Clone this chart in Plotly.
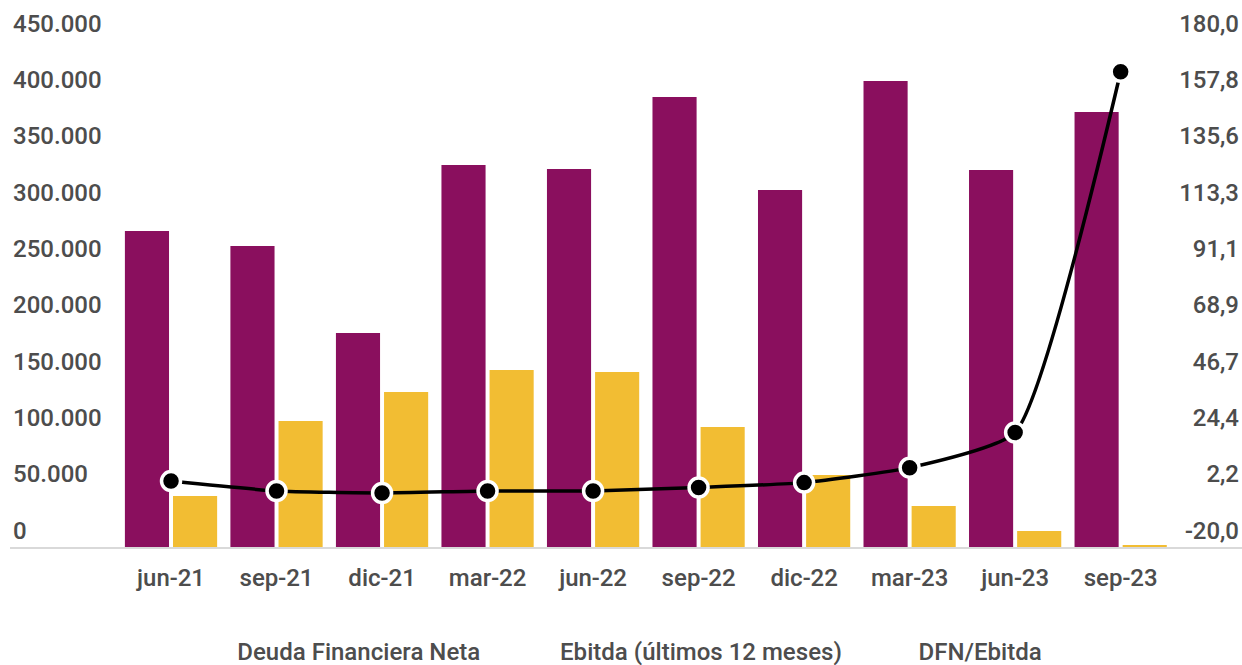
import plotly.graph_objects as go

categories = ["jun-21", "sep-21", "dic-21", "mar-22", "jun-22", "sep-22", "dic-22", "mar-23", "jun-23", "sep-23"]
deuda = [280500, 267200, 189900, 339000, 335500, 399400, 316900, 413600, 334600, 386100]
ebitda = [45300, 111800, 137600, 157100, 155300, 106500, 63900, 36400, 14200, 1800]
dfn_ebitda = [6.0, 2.1, 1.3, 2.1, 2.1, 3.5, 5.4, 11.3, 25.2, 167.5]

names = ["Deuda Financiera Neta", "Ebitda (últimos 12 meses)", "DFN/Ebitda"]
left_ticks = [0, 50000, 100000, 150000, 200000, 250000, 300000, 350000, 400000, 450000]
left_text = ["0", "50.000", "100.000", "150.000", "200.000", "250.000", "300.000", "350.000", "400.000", "450.000"]
right_ticks = [-20 + i * 200 / 9 for i in range(10)]
right_text = ["-20,0", "2,2", "24,4", "46,7", "68,9", "91,1", "113,3", "135,6", "157,8", "180,0"]

PURPLE = "#8A0F5E"
YELLOW = "#F2BD33"
TEXT = "#4D4D4D"
FONT = "Roboto Medium, Roboto"

fig = go.Figure()
fig.add_trace(go.Bar(x=categories, y=deuda, name=names[0], marker=dict(color=PURPLE, line=dict(width=0)),
                     showlegend=False, yaxis="y"))
fig.add_trace(go.Bar(x=categories, y=ebitda, name=names[1], marker=dict(color=YELLOW, line=dict(width=0)),
                     showlegend=False, yaxis="y"))
fig.add_trace(go.Scatter(x=categories, y=dfn_ebitda, name=names[2], mode="lines+markers",
                         line=dict(color="black", width=3.5, shape="spline", smoothing=0.5),
                         marker=dict(color="black", size=19, line=dict(color="white", width=3.5)),
                         showlegend=False, yaxis="y2"))

# legend entries (text only)
legend_x = [0.152, 0.414, 0.705]
for i, nm in enumerate(names):
    fig.add_trace(go.Scatter(x=[None], y=[None], mode="markers", name=nm,
                             marker=dict(color="rgba(0,0,0,0)", size=1),
                             showlegend=True, legend="legend" if i == 0 else f"legend{i+1}",
                             hoverinfo="skip"))

tick_font = dict(family=FONT, size=24, color=TEXT, weight=500)
leg_common = dict(orientation="h", yanchor="middle", y=-0.191, xanchor="left",
                  font=dict(family=FONT, size=24, color=TEXT, weight=500), bgcolor="rgba(0,0,0,0)",
                  itemwidth=30)

fig.update_layout(
    width=1242, height=665,
    margin=dict(l=10, r=0, t=0, b=118, autoexpand=False),
    paper_bgcolor="white", plot_bgcolor="white",
    barmode="group", bargap=0.088, bargroupgap=0.083,
    font=dict(family=FONT, size=24, color=TEXT),
    xaxis=dict(type="category", range=[-1.526, 10.15], showgrid=False, zeroline=False,
               showline=True, linecolor="#D9D9D9", linewidth=2, ticks="",
               tickfont=tick_font, ticklabelstandoff=8),
    yaxis=dict(range=[0, 485500], tickmode="array", tickvals=left_ticks, ticktext=left_text,
               showgrid=False, zeroline=False, showline=False, ticks="",
               ticklabelposition="inside top", tickfont=tick_font),
    yaxis2=dict(range=[-20, 195.8], tickmode="array", tickvals=right_ticks, ticktext=right_text,
                overlaying="y", side="right", showgrid=False, zeroline=False, showline=False,
                ticks="", ticklabelposition="inside top", tickfont=tick_font),
    legend=dict(**leg_common, x=legend_x[0]),
    legend2=dict(**leg_common, x=legend_x[1]),
    legend3=dict(**leg_common, x=legend_x[2]),
)

fig.write_html("out.html")
